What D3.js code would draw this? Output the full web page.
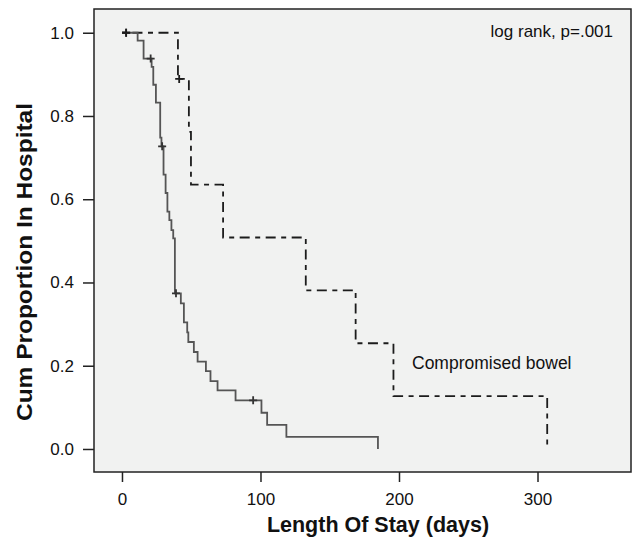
<!DOCTYPE html>
<html>
<head>
<meta charset="utf-8">
<script src="https://cdn.jsdelivr.net/npm/d3@7"></script>
<style>
  body { margin: 0; background: #fff; }
  svg { display: block; font-family: "Liberation Sans", Arial, sans-serif; }
</style>
</head>
<body>
<svg id="chart" width="633" height="538"></svg>
<script>
// Kaplan-Meier steps: [day, proportion after the drop]
const controlSteps = [
  [0, 1.0], [11.3, 0.981], [15.6, 0.938], [21.4, 0.918], [22.6, 0.875],
  [24.5, 0.832], [27.6, 0.748], [28.5, 0.727], [30, 0.659], [31.5, 0.615],
  [32.8, 0.570], [34.2, 0.550], [35.7, 0.526], [37, 0.506], [38.2, 0.374],
  [42.5, 0.350], [44.7, 0.304], [47.1, 0.280], [47.9, 0.257], [51.9, 0.233],
  [54.6, 0.210], [60.6, 0.187], [63.9, 0.163], [69, 0.141], [82, 0.117],
  [100.7, 0.087], [104.8, 0.058], [118.7, 0.029], [184.8, 0.0]
];
const controlCensored = [[3, 1.0], [20.7, 0.938], [29, 0.727], [39, 0.374], [94.7, 0.117]];

const bowelSteps = [
  [0, 1.0], [40.4, 0.889], [48.3, 0.762], [49.8, 0.635], [73, 0.508],
  [132.7, 0.381], [168.7, 0.254], [196, 0.127], [307, 0.0]
];
const bowelCensored = [[3, 1.0], [41.3, 0.889]];

const xTicks = [0, 100, 200, 300];
const yTicks = [0, 0.2, 0.4, 0.6, 0.8, 1.0];

const svg = d3.select("#chart");
const mLeft = 94, mRight = 631, mTop = 9, mBottom = 472;

const x = d3.scaleLinear().domain([-20.2, 367.5]).range([mLeft, mRight]);
const y = d3.scaleLinear().domain([-0.0553, 1.057]).range([mBottom, mTop]);

// plot panel
svg.append("rect")
  .attr("x", mLeft).attr("y", mTop)
  .attr("width", mRight - mLeft).attr("height", mBottom - mTop)
  .attr("fill", "#f1f2f1")
  .attr("stroke", "#222").attr("stroke-width", 1.5);

// axes
const yAxis = svg.append("g")
  .attr("transform", `translate(${mLeft},0)`)
  .call(d3.axisLeft(y).tickValues(yTicks).tickFormat(d3.format(".1f")).tickSize(11).tickPadding(9));
const xAxis = svg.append("g")
  .attr("transform", `translate(0,${mBottom})`)
  .call(d3.axisBottom(x).tickValues(xTicks).tickSize(10).tickPadding(11));

[yAxis, xAxis].forEach(a => {
  a.select(".domain").remove();
  a.selectAll(".tick line").attr("stroke", "#222").attr("stroke-width", 1.5);
  a.selectAll(".tick text").attr("fill", "#111").style("font-size", "17px")
    .style("font-family", "'Liberation Sans', Arial, sans-serif");
});

// step line
const step = d3.line().x(d => x(d[0])).y(d => y(d[1])).curve(d3.curveStepAfter);

svg.append("path")
  .datum(bowelSteps)
  .attr("d", step)
  .attr("fill", "none")
  .attr("stroke", "#1c1c1c")
  .attr("stroke-width", 1.8)
  .attr("stroke-dasharray", "5,5.5,10,5.5");

svg.append("path")
  .datum(controlSteps)
  .attr("d", step)
  .attr("fill", "none")
  .attr("stroke", "#555")
  .attr("stroke-width", 1.8);

// censor marks
function plus(g, pts, color) {
  g.selectAll(null).data(pts).join("path")
    .attr("d", d => `M${x(d[0]) - 4},${y(d[1])}h8M${x(d[0])},${y(d[1]) - 4}v8`)
    .attr("stroke", color).attr("stroke-width", 1.8);
}
plus(svg.append("g"), controlCensored, "#333");
plus(svg.append("g"), bowelCensored, "#1c1c1c");

// annotations
svg.append("text")
  .attr("x", 613).attr("y", 37)
  .attr("text-anchor", "end")
  .style("font-size", "17px")
  .attr("fill", "#111")
  .text("log rank, p=.001");

svg.append("text")
  .attr("x", 412).attr("y", 369)
  .style("font-size", "17.5px")
  .attr("fill", "#111")
  .text("Compromised bowel");

// axis titles
svg.append("text")
  .attr("x", 378).attr("y", 532)
  .attr("text-anchor", "middle")
  .style("font-size", "21.5px").style("font-weight", "bold")
  .attr("fill", "#111")
  .text("Length Of Stay (days)");

svg.append("text")
  .attr("transform", "translate(32,262) rotate(-90)")
  .attr("text-anchor", "middle")
  .attr("textLength", 318)
  .attr("lengthAdjust", "spacingAndGlyphs")
  .style("font-size", "22px").style("font-weight", "bold")
  .attr("fill", "#111")
  .text("Cum Proportion In Hospital");
</script>
</body>
</html>
